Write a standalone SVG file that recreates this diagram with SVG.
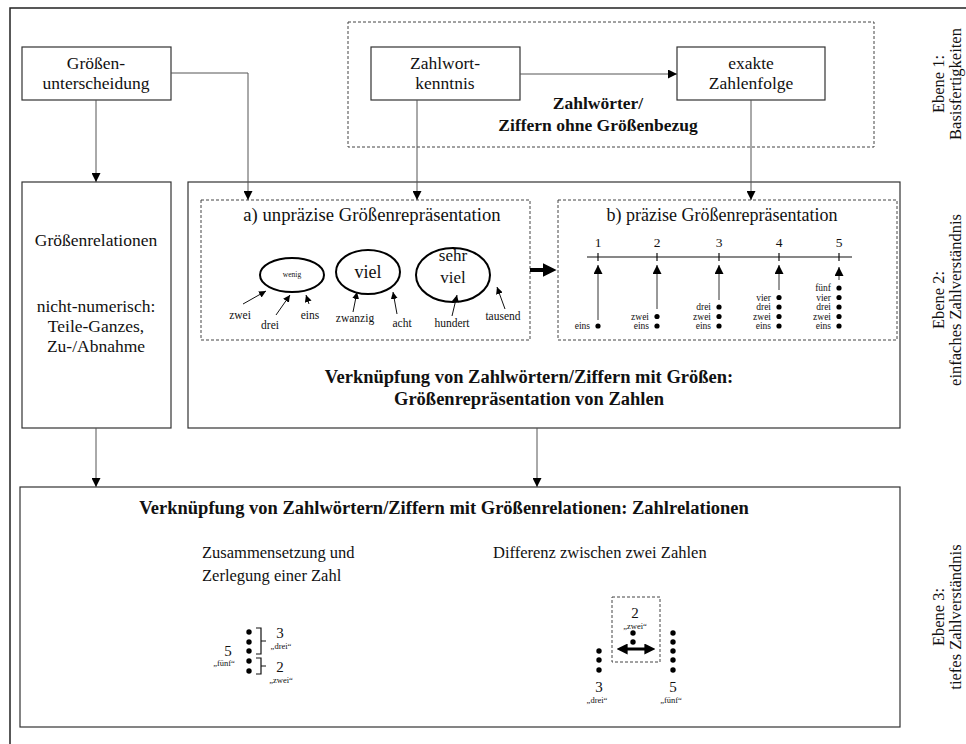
<svg xmlns="http://www.w3.org/2000/svg" width="966" height="744" viewBox="0 0 966 744" font-family="'Liberation Serif', 'DejaVu Serif', serif">
<style>
text{font-family:'Liberation Serif','DejaVu Serif',serif;fill:#111}
.box{fill:#fff;stroke:#333;stroke-width:1.2}
.dash{fill:none;stroke:#444;stroke-width:1;stroke-dasharray:3 2}
.t{font-size:17.5px;text-anchor:middle}
.b{font-size:18.5px;font-weight:bold;text-anchor:middle}
.tb{font-size:17.5px;font-weight:bold;text-anchor:middle}
.con{fill:none;stroke:#555;stroke-width:1}
.sm{fill:none;stroke:#111;stroke-width:1}
.s9{font-size:9.5px;text-anchor:end}
.q{font-size:8.5px;text-anchor:middle}
.side{font-size:16.5px;text-anchor:middle}
.dot{fill:#000}
.ell{fill:#fff;stroke:#000;stroke-width:2}
</style>
<defs>
<marker id="ah" viewBox="0 0 10 10" refX="10" refY="5" markerWidth="9" markerHeight="9" markerUnits="userSpaceOnUse" orient="auto"><path d="M0,0 L10,5 L0,10 z" fill="#000"/></marker>
<marker id="ahs" viewBox="0 0 10 10" refX="10" refY="5" markerWidth="7" markerHeight="7" markerUnits="userSpaceOnUse" orient="auto"><path d="M0,0 L10,5 L0,10 z" fill="#000"/></marker>
<marker id="ahb" viewBox="0 0 10 10" refX="6" refY="5" markerWidth="14" markerHeight="14" markerUnits="userSpaceOnUse" orient="auto"><path d="M0,0 L10,5 L0,10 z" fill="#000"/></marker>
<marker id="ahd" viewBox="0 0 10 10" refX="6" refY="5" markerWidth="11" markerHeight="11" markerUnits="userSpaceOnUse" orient="auto-start-reverse"><path d="M0,0 L10,5 L0,10 z" fill="#000"/></marker>
</defs>
<rect width="966" height="744" fill="#fff"/>
<path d="M10,744 V8 H966" fill="none" stroke="#222" stroke-width="1.5"/>

<g id="side-labels">
<text class="side" transform="translate(944,84) rotate(-90)">Ebene 1:</text>
<text class="side" transform="translate(961,84) rotate(-90)">Basisfertigkeiten</text>
<text class="side" transform="translate(944,300) rotate(-90)">Ebene 2:</text>
<text class="side" transform="translate(961,300) rotate(-90)">einfaches Zahlverständnis</text>
<text class="side" transform="translate(944,617) rotate(-90)">Ebene 3:</text>
<text class="side" transform="translate(961,617) rotate(-90)">tiefes Zahlverständnis</text>
</g>

<g id="ebene1-frame">
<rect class="dash" x="348" y="22" width="526" height="125"/>
<text class="tb" x="598" y="109">Zahlwörter/</text>
<text class="tb" x="598" y="131">Ziffern ohne Größenbezug</text>
</g>

<g id="groessenunterscheidung">
<rect class="box" x="22" y="47" width="149" height="53"/>
<text class="t" x="96" y="69">Größen-</text>
<text class="t" x="96" y="89">unterscheidung</text>
</g>

<g id="zahlwortkenntnis">
<rect class="box" x="371" y="47" width="149" height="53"/>
<text class="t" x="445" y="69">Zahlwort-</text>
<text class="t" x="445" y="89">kenntnis</text>
</g>

<g id="zahlenfolge">
<rect class="box" x="677" y="47" width="148" height="53"/>
<text class="t" x="751" y="69">exakte</text>
<text class="t" x="751" y="89">Zahlenfolge</text>
</g>

<g id="groessenrelationen">
<rect class="box" x="22" y="182" width="149" height="246"/>
<text class="t" x="96" y="246">Größenrelationen</text>
<text class="t" x="96" y="312">nicht-numerisch:</text>
<text class="t" x="96" y="332">Teile-Ganzes,</text>
<text class="t" x="96" y="352">Zu-/Abnahme</text>
</g>

<g id="groessenrepraesentation">
<rect class="box" x="188" y="182" width="712" height="246"/>
<text class="b" x="529" y="383">Verknüpfung von Zahlwörtern/Ziffern mit Größen:</text>
<text class="b" x="529" y="405">Größenrepräsentation von Zahlen</text>
</g>

<g id="unpraezise">
<rect class="dash" x="201" y="200" width="329" height="140"/>
<text class="t" x="372" y="221" style="font-size:18.7px">a) unpräzise Größenrepräsentation</text>
<ellipse class="ell" cx="292" cy="275" rx="32" ry="17"/>
<text x="292" y="277" style="font-size:7.5px;text-anchor:middle">wenig</text>
<ellipse class="ell" cx="368" cy="272" rx="32" ry="22"/>
<text x="368" y="278" style="font-size:18px;text-anchor:middle">viel</text>
<ellipse class="ell" cx="453" cy="275" rx="37" ry="27"/>
<text x="453" y="261" style="font-size:17px;text-anchor:middle">sehr</text>
<text x="453" y="283" style="font-size:17px;text-anchor:middle">viel</text>
<g class="sm">
<path d="M243,304 L266,291" marker-end="url(#ahs)"/>
<path d="M276,315 L290,295" marker-end="url(#ahs)"/>
<path d="M309,304 L306,295" marker-end="url(#ahs)"/>
<path d="M353,312 L357,292" marker-end="url(#ahs)"/>
<path d="M397,314 L393,292" marker-end="url(#ahs)"/>
<path d="M452,316 L457,295" marker-end="url(#ahs)"/>
<path d="M505,309 L497,287" marker-end="url(#ahs)"/>
</g>
<g style="font-size:11.5px;text-anchor:middle">
<text x="240" y="319">zwei</text>
<text x="270" y="329">drei</text>
<text x="310" y="319">eins</text>
<text x="355" y="322">zwanzig</text>
<text x="402" y="327">acht</text>
<text x="452" y="327">hundert</text>
<text x="503" y="320">tausend</text>
</g>
</g>

<g id="praezise">
<rect class="dash" x="558" y="200" width="339" height="140"/>
<text class="t" x="722" y="221" style="font-size:18px">b) präzise Größenrepräsentation</text>
<g style="font-size:13.5px;text-anchor:middle">
<text x="598" y="247">1</text>
<text x="657" y="247">2</text>
<text x="719" y="247">3</text>
<text x="779" y="247">4</text>
<text x="839" y="247">5</text>
</g>
<path d="M587,257 H852 M598,253 V261 M657,253 V261 M719,253 V261 M779,253 V261 M839,253 V261" stroke="#111" stroke-width="1.2" fill="none"/>
<g class="con" style="stroke:#333">
<path d="M598,320 V265" marker-end="url(#ah)"/>
<path d="M657,309 V265" marker-end="url(#ah)"/>
<path d="M719,300 V265" marker-end="url(#ah)"/>
<path d="M779,290 V265" marker-end="url(#ah)"/>
<path d="M839,280 V267" marker-end="url(#ah)"/>
</g>
<g class="dot">
<circle cx="598" cy="326" r="2.6"/>
<circle cx="657" cy="326" r="2.6"/><circle cx="657" cy="316.5" r="2.6"/>
<circle cx="719" cy="326" r="2.6"/><circle cx="719" cy="316.5" r="2.6"/><circle cx="719" cy="307" r="2.6"/>
<circle cx="779" cy="326" r="2.6"/><circle cx="779" cy="316.5" r="2.6"/><circle cx="779" cy="307" r="2.6"/><circle cx="779" cy="297.5" r="2.6"/>
<circle cx="839" cy="326" r="2.6"/><circle cx="839" cy="316.5" r="2.6"/><circle cx="839" cy="307" r="2.6"/><circle cx="839" cy="297.5" r="2.6"/><circle cx="839" cy="288" r="2.6"/>
</g>
<g class="s9">
<text x="590" y="329">eins</text>
<text x="649" y="329">eins</text><text x="649" y="319.5">zwei</text>
<text x="711" y="329">eins</text><text x="711" y="319.5">zwei</text><text x="711" y="310">drei</text>
<text x="771" y="329">eins</text><text x="771" y="319.5">zwei</text><text x="771" y="310">drei</text><text x="771" y="300.5">vier</text>
<text x="831" y="329">eins</text><text x="831" y="319.5">zwei</text><text x="831" y="310">drei</text><text x="831" y="300.5">vier</text><text x="831" y="291">fünf</text>
</g>
</g>

<g id="zahlrelationen">
<rect class="box" x="20" y="487" width="880" height="240"/>
<text class="b" x="444" y="514">Verknüpfung von Zahlwörtern/Ziffern mit Größenrelationen: Zahlrelationen</text>
<text x="202" y="558" style="font-size:16.5px">Zusammensetzung und</text>
<text x="202" y="581" style="font-size:16.5px">Zerlegung einer Zahl</text>
<text x="493" y="558" style="font-size:16.5px">Differenz zwischen zwei Zahlen</text>
<g class="dot">
<circle cx="249" cy="632" r="2.7"/><circle cx="249" cy="642" r="2.7"/><circle cx="249" cy="651" r="2.7"/><circle cx="249" cy="661" r="2.7"/><circle cx="249" cy="671" r="2.7"/>
</g>
<path d="M256,628 H261 V654 H256 M261,641 H266 M256,658 H261 V674 H256 M261,666 H266" fill="none" stroke="#111" stroke-width="1.2"/>
<text x="280" y="638" style="font-size:15px;text-anchor:middle">3</text>
<text class="q" x="281" y="649">„drei“</text>
<text x="280" y="672" style="font-size:15px;text-anchor:middle">2</text>
<text class="q" x="281" y="683">„zwei“</text>
<text x="228" y="656" style="font-size:15px;text-anchor:middle">5</text>
<text class="q" x="224" y="666">„fünf“</text>

<rect class="dash" x="612" y="597" width="48" height="65"/>
<text x="635" y="618" style="font-size:15px;text-anchor:middle">2</text>
<text class="q" x="635" y="629">„zwei“</text>
<g class="dot">
<circle cx="633" cy="633" r="2.7"/><circle cx="633" cy="642" r="2.7"/>
<circle cx="599" cy="651" r="2.7"/><circle cx="599" cy="660" r="2.7"/><circle cx="599" cy="670" r="2.7"/>
<circle cx="673" cy="633" r="2.7"/><circle cx="673" cy="642" r="2.7"/><circle cx="673" cy="651" r="2.7"/><circle cx="673" cy="660" r="2.7"/><circle cx="673" cy="670" r="2.7"/>
</g>
<path d="M621,649 H651" stroke="#000" stroke-width="3" fill="none" marker-start="url(#ahd)" marker-end="url(#ahd)"/>
<text x="599" y="692" style="font-size:15px;text-anchor:middle">3</text>
<text class="q" x="597" y="703">„drei“</text>
<text x="673" y="692" style="font-size:15px;text-anchor:middle">5</text>
<text class="q" x="671" y="703">„fünf“</text>
</g>

<g id="connectors">
<path class="con" d="M96,100 V182" marker-end="url(#ah)"/>
<path class="con" d="M171,73 H248 V200" marker-end="url(#ah)"/>
<path class="con" d="M520,74 H677" marker-end="url(#ah)"/>
<path class="con" d="M417,100 V200" marker-end="url(#ah)"/>
<path class="con" d="M751,100 V200" marker-end="url(#ah)"/>
<path d="M530,270 H551" stroke="#000" stroke-width="4" fill="none" marker-end="url(#ahb)"/>
<path class="con" d="M96,428 V487" marker-end="url(#ah)"/>
<path class="con" d="M537,428 V487" marker-end="url(#ah)"/>
</g>
</svg>
